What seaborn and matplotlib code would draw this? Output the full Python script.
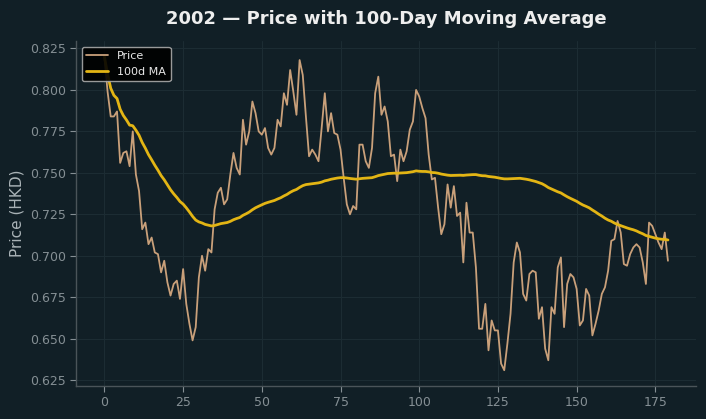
import numpy as np
import pandas as pd
import matplotlib
matplotlib.use("Agg")
import matplotlib.pyplot as plt
import seaborn as sns

# daily closing prices (trading day index 0..179)
price = [
    0.820, 0.799, 0.784, 0.784, 0.787, 0.756, 0.762, 0.763, 0.754, 0.775,
    0.749, 0.739, 0.716, 0.720, 0.707, 0.711, 0.702, 0.701, 0.690, 0.697,
    0.684, 0.676, 0.683, 0.685, 0.674, 0.692, 0.671, 0.659, 0.649, 0.657,
    0.687, 0.700, 0.691, 0.704, 0.702, 0.728, 0.738, 0.741, 0.731, 0.734,
    0.749, 0.762, 0.753, 0.749, 0.782, 0.767, 0.775, 0.793, 0.786, 0.775,
    0.773, 0.777, 0.765, 0.761, 0.765, 0.782, 0.778, 0.798, 0.791, 0.812,
    0.799, 0.785, 0.818, 0.809, 0.784, 0.760, 0.764, 0.761, 0.757, 0.777,
    0.798, 0.775, 0.786, 0.774, 0.773, 0.764, 0.747, 0.731, 0.725, 0.730,
    0.728, 0.767, 0.767, 0.757, 0.753, 0.765, 0.798, 0.808, 0.785, 0.790,
    0.781, 0.760, 0.761, 0.745, 0.764, 0.757, 0.763, 0.776, 0.781, 0.800,
    0.796, 0.789, 0.783, 0.761, 0.746, 0.747, 0.729, 0.713, 0.719, 0.743,
    0.729, 0.742, 0.724, 0.726, 0.696, 0.732, 0.714, 0.714, 0.693, 0.656,
    0.656, 0.671, 0.643, 0.661, 0.655, 0.655, 0.635, 0.631, 0.647, 0.665,
    0.696, 0.708, 0.702, 0.677, 0.673, 0.689, 0.691, 0.690, 0.662, 0.669,
    0.644, 0.637, 0.669, 0.665, 0.693, 0.699, 0.657, 0.683, 0.689, 0.687,
    0.680, 0.658, 0.661, 0.680, 0.676, 0.652, 0.659, 0.667, 0.677, 0.681,
    0.691, 0.709, 0.710, 0.721, 0.714, 0.695, 0.694, 0.701, 0.705, 0.707,
    0.705, 0.696, 0.683, 0.720, 0.718, 0.713, 0.708, 0.704, 0.714, 0.697,
]
year = "2002"
window = 100

df = pd.DataFrame({"day": np.arange(len(price)), "price": price})
df["ma"] = df["price"].rolling(window, min_periods=1).mean()

bg = "#111f26"
sns.set_theme(style="dark")
plt.rcParams["font.family"] = ["DejaVu Sans"]

fig = plt.figure(figsize=(7.06, 4.19), dpi=100, facecolor=bg)
ax = fig.add_axes([0.108, 0.079, 0.878, 0.823])
ax.set_facecolor(bg)

sns.lineplot(data=df, x="day", y="price", ax=ax, color="#c9a07a", linewidth=1.3, label="Price")
sns.lineplot(data=df, x="day", y="ma", ax=ax, color="#e3b514", linewidth=2.0, label=f"{window}d MA")

ax.grid(True, color="#1c2c33", linewidth=0.8)
ax.set_xticks([0, 25, 50, 75, 100, 125, 150, 175])
ax.set_yticks([0.625, 0.650, 0.675, 0.700, 0.725, 0.750, 0.775, 0.800, 0.825])
ax.yaxis.set_major_formatter(matplotlib.ticker.FormatStrFormatter("%.3f"))
ax.tick_params(colors="#858f94", labelsize=9, length=4, width=0.8, left=True, bottom=True)
for side in ["top", "right"]:
    ax.spines[side].set_visible(False)
for side in ["left", "bottom"]:
    ax.spines[side].set_color("#4a5459")
    ax.spines[side].set_linewidth(1.0)

ax.set_xlabel("")
ax.set_ylabel("Price (HKD)", color="#aab3b7", fontsize=11)
ax.set_title(f"{year} \u2014 Price with {window}-Day Moving Average",
             color="#eeeeee", fontsize=13, fontweight="bold", pad=12)

leg = ax.legend(loc="upper left", fontsize=8, facecolor="black", edgecolor="#aaaaaa",
                framealpha=0.9, borderpad=0.4, handlelength=2.0)
for t in leg.get_texts():
    t.set_color("#e8e8e8")

fig.savefig("out.png", dpi=100, facecolor=bg)
